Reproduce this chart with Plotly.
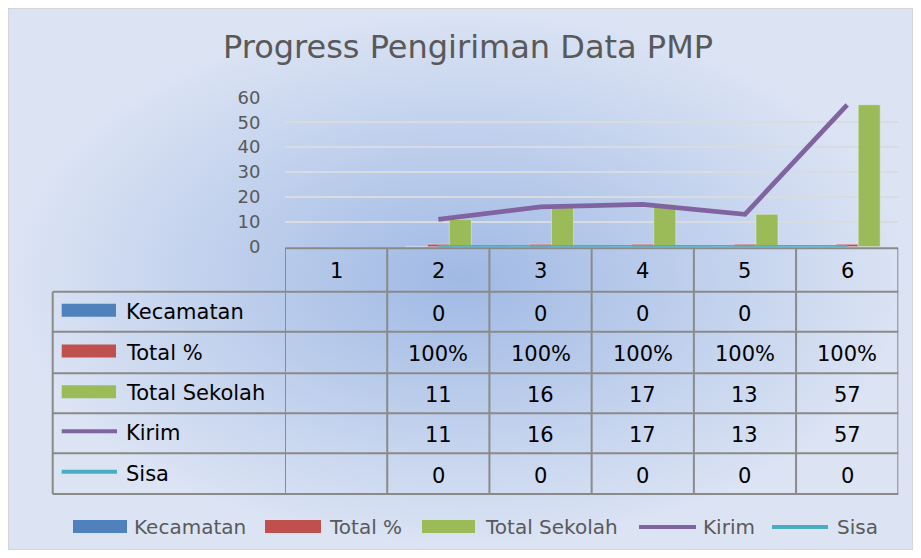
import plotly.graph_objects as go

# the page body adds an 8px margin on every side; keep the figure inside the
# 921x558 window and shift reference pixel positions by that margin
OFF = 8
W, H = 921 - 2 * OFF, 558 - 2 * OFF


def fx(p):
    return (p - OFF) / W


def fy(p):
    return 1 - (p - OFF) / H


# data
categories = ["1", "2", "3", "4", "5", "6"]
kecamatan = [None, 0, 0, 0, 0, None]
total_pct = [None, 1, 1, 1, 1, 1]
total_sekolah = [None, 11, 16, 17, 13, 57]
kirim = [None, 11, 16, 17, 13, 57]
sisa = [None, 0, 0, 0, 0, 0]

names = ["Kecamatan", "Total %", "Total Sekolah", "Kirim", "Sisa"]
colors = ["#4f81bd", "#c0504d", "#9bbb59", "#8064a2", "#4bacc6"]
kinds = ["bar", "bar", "bar", "line", "line"]
fmt = [str, lambda v: f"{v:.0%}", str, str, str]
rows = [kecamatan, total_pct, total_sekolah, kirim, sisa]

FONT = "DejaVu Sans"
GREY = "#595959"

fig = go.Figure()

# gradient chart background (reference pixel coords)
RIGHT, BOTTOM = OFF + W, OFF + H
fig.add_trace(go.Scatter(
    x=[OFF, RIGHT, RIGHT, OFF, OFF], y=[OFF, OFF, BOTTOM, BOTTOM, OFF], mode="lines", fill="toself",
    fillgradient=dict(type="radial", colorscale=[[0, "#a0b9e4"], [1, "#dce4f4"]]),
    line=dict(color="#d0d0d0", width=1.5), hoverinfo="skip", showlegend=False,
    xaxis="x", yaxis="y"))

for name, col, kind, vals in zip(names, colors, kinds, rows):
    if kind == "bar":
        fig.add_trace(go.Bar(x=categories, y=vals, name=name, marker_color=col,
                             xaxis="x2", yaxis="y2", showlegend=False))
    else:
        fig.add_trace(go.Scatter(x=categories, y=vals, name=name, mode="lines",
                                 line=dict(color=col, width=4.8 if name == "Kirim" else 3.5),
                                 cliponaxis=False, xaxis="x2", yaxis="y2", showlegend=False))

shapes = []
annotations = []
LC = "#8a8a8a"
row_edges = [291.7, 331.7, 373.3, 413.3, 453.3, 494]
head_top = 248.3
left = 52.7

# table grid
shapes.append(dict(type="line", xref="x2", yref="paper", x0=-0.5, x1=len(categories) - 0.5,
                   y0=fy(head_top), y1=fy(head_top), line=dict(color=LC, width=2)))
for r in row_edges:
    shapes.append(dict(type="line", xref="paper", yref="paper", x0=fx(left), x1=fx(898.3),
                       y0=fy(r), y1=fy(r), line=dict(color=LC, width=2)))
shapes.append(dict(type="line", xref="paper", yref="paper", x0=fx(left), x1=fx(left),
                   y0=fy(row_edges[0]), y1=fy(row_edges[-1]), line=dict(color=LC, width=2)))
for i in range(len(categories) + 1):
    shapes.append(dict(type="line", xref="x2", yref="paper", x0=i - 0.5, x1=i - 0.5,
                       y0=fy(head_top), y1=fy(row_edges[-1]), line=dict(color=LC, width=2)))

# header numbers
for i, c in enumerate(categories):
    annotations.append(dict(x=i, y=fy((head_top + row_edges[0]) / 2 + 1), xref="x2", yref="paper",
                            xanchor="center", yanchor="middle", text=c, showarrow=False,
                            font=dict(family=FONT, size=21, color="black")))

# table rows
for k, (name, col, kind, vals, f) in enumerate(zip(names, colors, kinds, rows, fmt)):
    yc = (row_edges[k] + row_edges[k + 1]) / 2
    if kind == "bar":
        shapes.append(dict(type="rect", xref="paper", yref="paper", x0=fx(61.7), x1=fx(116),
                           y0=fy(yc - 8), y1=fy(yc + 5), fillcolor=col, line_width=0))
    else:
        shapes.append(dict(type="line", xref="paper", yref="paper", x0=fx(61.7), x1=fx(117),
                           y0=fy(yc - 2), y1=fy(yc - 2), line=dict(color=col, width=4)))
    annotations.append(dict(x=fx(123.5), y=fy(yc), xref="paper", yref="paper",
                            xanchor="left", yanchor="middle", text=name, showarrow=False,
                            font=dict(family=FONT, size=21, color="black")))
    for i, v in enumerate(vals):
        if v is None:
            continue
        annotations.append(dict(x=i, y=fy(yc + 2), xref="x2", yref="paper",
                                xanchor="center", yanchor="middle", text=f(v), showarrow=False,
                                font=dict(family=FONT, size=21, color="black")))

# bottom legend
leg_key = [(73, 127), (265, 321), (422, 475), (639, 696), (772, 828)]
leg_txt = [132, 327, 483, 701, 835]
for name, col, kind, (a, b), tx in zip(names, colors, kinds, leg_key, leg_txt):
    if kind == "bar":
        shapes.append(dict(type="rect", xref="paper", yref="paper", x0=fx(a), x1=fx(b),
                           y0=fy(533), y1=fy(520), fillcolor=col, line_width=0))
    else:
        shapes.append(dict(type="line", xref="paper", yref="paper", x0=fx(a), x1=fx(b),
                           y0=fy(527), y1=fy(527), line=dict(color=col, width=4)))
    annotations.append(dict(x=fx(tx), y=fy(527), xref="paper", yref="paper",
                            xanchor="left", yanchor="middle", text=name, showarrow=False,
                            font=dict(family=FONT, size=20, color=GREY)))

fig.update_layout(
    width=W, height=H,
    margin=dict(l=0, r=0, t=0, b=0, pad=0, autoexpand=False),
    paper_bgcolor="white", plot_bgcolor="rgba(0,0,0,0)",
    title=dict(text="Progress Pengiriman Data PMP", x=fx(468), xanchor="center",
               y=fy(47), yanchor="middle", font=dict(family=FONT, size=32, color=GREY)),
    barmode="group", bargap=0.354, bargroupgap=0,
    showlegend=False,
    xaxis=dict(domain=[0, 1], range=[OFF, RIGHT], visible=False, fixedrange=True,
               automargin=False),
    yaxis=dict(domain=[0, 1], range=[BOTTOM, OFF], visible=False, fixedrange=True,
               automargin=False),
    xaxis2=dict(domain=[fx(285), fx(898.3)], type="category", range=[-0.5, 5.5],
                anchor="y2", showticklabels=False, showgrid=False, zeroline=False,
                automargin=False),
    yaxis2=dict(domain=[fy(246.7), fy(97.3)], range=[0, 60], dtick=10, anchor="x2",
                gridcolor="#d8dbe0", gridwidth=2, zeroline=False, showline=False,
                ticks="outside", ticklen=20, tickcolor="rgba(0,0,0,0)",
                tickfont=dict(family=FONT, size=18, color=GREY), automargin=False),
    shapes=shapes, annotations=annotations,
)

fig.write_html("out.html")
